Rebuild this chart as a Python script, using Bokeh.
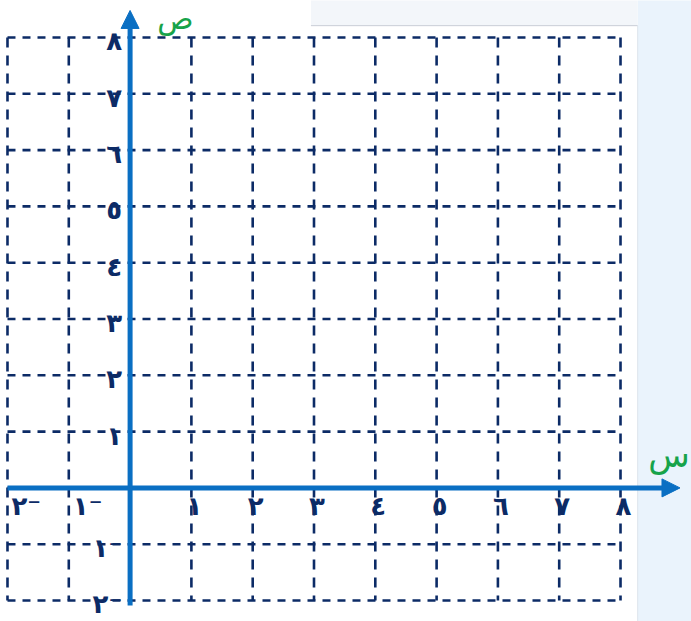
from bokeh.plotting import figure
from bokeh.models import Arrow, NormalHead, Label
from bokeh.core.properties import value
from bokeh.embed import file_html
from bokeh.resources import INLINE

# ---- data ----
grid_values = list(range(-2, 9))
x_tick_values = [-2, -1, 1, 2, 3, 4, 5, 6, 7, 8]
x_tick_labels = ["٢⁻", "١⁻", "١", "٢", "٣", "٤", "٥", "٦", "٧", "٨"]
y_tick_values = [-2, -1, 1, 2, 3, 4, 5, 6, 7, 8]
y_tick_labels = ["٢⁻", "١⁻", "١", "٢", "٣", "٤", "٥", "٦", "٧", "٨"]
x_axis_name = "س"
y_axis_name = "ص"

NAVY = "#0c2b66"
BLUE = "#0a6fc3"
GREEN = "#17a34a"
FONT = "DejaVu Sans"

p = figure(width=691, height=621, x_range=(-2.114, 9.158), y_range=(-2.373, 8.657),
           output_backend="svg", toolbar_location=None, min_border=0)
p.axis.visible = False
p.grid.visible = False
p.outline_line_color = None
p.background_fill_color = "white"
p.border_fill_color = "white"

# page decoration behind the sheet
p.quad(left=8.28, right=9.3, bottom=-2.5, top=8.8, fill_color="#eaf3fc", line_color=None)
p.quad(left=2.95, right=8.28, bottom=8.21, top=8.8, fill_color="#f3f6fa", line_color=None)
p.segment(x0=[2.95], y0=[8.21], x1=[8.28], y1=[8.21], line_color="#c9ced6", line_width=1)
p.segment(x0=[8.28], y0=[8.21], x1=[8.28], y1=[-2.5], line_color="#dde4ec", line_width=1)

lo, hi = min(grid_values), max(grid_values)
# vertical dashed grid lines (drawn top to bottom)
p.segment(x0=grid_values, y0=[hi] * len(grid_values), x1=grid_values, y1=[lo] * len(grid_values),
          line_color=NAVY, line_width=2.6, line_dash="10 8")
# horizontal dashed grid lines
p.segment(x0=[lo] * len(grid_values), y0=grid_values, x1=[hi] * len(grid_values), y1=grid_values,
          line_color=NAVY, line_width=2.6, line_dash="8 7")

# axes
p.add_layout(Arrow(x_start=lo, y_start=0, x_end=8.97, y_end=0, line_color=BLUE, line_width=5,
                   end=NormalHead(size=18, fill_color=BLUE, line_color=BLUE, line_width=1)))
p.add_layout(Arrow(x_start=0, y_start=-2.09, x_end=0, y_end=8.48, line_color=BLUE, line_width=5,
                   end=NormalHead(size=18, fill_color=BLUE, line_color=BLUE, line_width=1)))

# x tick labels
neg_x = [(v, t) for v, t in zip(x_tick_values, x_tick_labels) if v < 0]
pos_x = [(v, t) for v, t in zip(x_tick_values, x_tick_labels) if v > 0]
p.text(x=[v for v, _ in neg_x], y=[0] * len(neg_x), text=[t for _, t in neg_x],
       text_align="left", text_baseline="middle", x_offset=4, y_offset=18,
       text_font=value(FONT), text_font_size="26px", text_font_style="bold", text_color=NAVY)
p.text(x=[v for v, _ in pos_x], y=[0] * len(pos_x), text=[t for _, t in pos_x],
       text_align="center", text_baseline="middle", x_offset=3, y_offset=18,
       text_font=value(FONT), text_font_size="26px", text_font_style="bold", text_color=NAVY)

# y tick labels
p.text(x=[0] * len(y_tick_values), y=y_tick_values, text=y_tick_labels,
       text_align="right", text_baseline="middle", x_offset=-8, y_offset=4,
       text_font=value(FONT), text_font_size="26px", text_font_style="bold", text_color=NAVY)

# axis names
p.add_layout(Label(x=0.74, y=8.33, text=y_axis_name, text_align="center", text_baseline="middle",
                   text_font=FONT, text_font_size="30px", text_color=GREEN))
p.add_layout(Label(x=9.13, y=0.58, text=x_axis_name, text_align="right", text_baseline="middle",
                   text_font=FONT, text_font_size="34px", text_color=GREEN))

open("out.html", "w").write(file_html(p, INLINE))
